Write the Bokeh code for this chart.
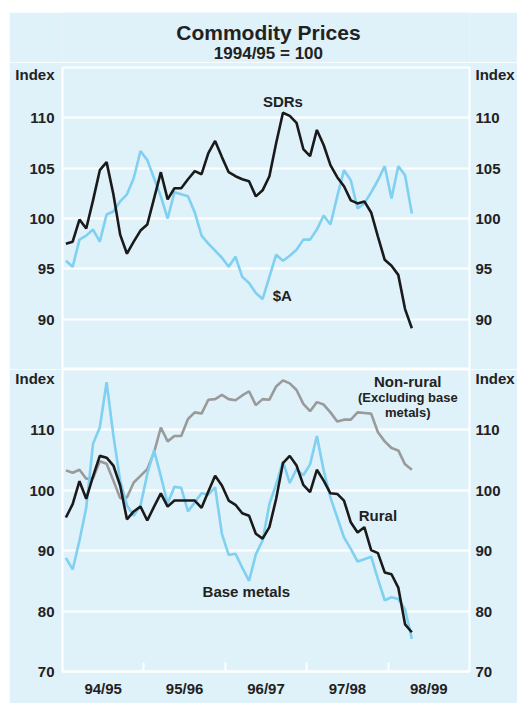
import numpy as np
from bokeh.plotting import figure
from bokeh.models import Range1d, FixedTicker, Label, LinearAxis
from bokeh.layouts import column
from bokeh.embed import file_html
from bokeh.resources import INLINE

# ---------------- data (monthly, Jul 1994 - Oct 1998) ----------------
month_abbr = ["Jul", "Aug", "Sep", "Oct", "Nov", "Dec",
              "Jan", "Feb", "Mar", "Apr", "May", "Jun"]
months = [f"{month_abbr[i % 12]}-{(94 + (i + 6) // 12) % 100:02d}" for i in range(52)]

sdrs = [97.5, 97.7, 99.9, 99.0, 101.8, 104.8, 105.6, 102.4, 98.4, 96.5,
        97.7, 98.8, 99.4, 102.0, 104.6, 101.9, 103.0, 103.0, 103.9, 104.7,
        104.4, 106.5, 107.7, 106.1, 104.6, 104.2, 103.9, 103.7, 102.2, 102.8,
        104.2, 107.5, 110.5, 110.2, 109.5, 106.9, 106.2, 108.8, 107.3, 105.3,
        104.1, 103.2, 101.8, 101.5, 101.7, 100.6, 98.2, 95.9, 95.3, 94.4,
        91.0, 89.1]

aud = [95.8, 95.2, 97.9, 98.3, 98.9, 97.7, 100.4, 100.7, 101.7, 102.4,
       104.0, 106.7, 105.8, 104.0, 102.2, 100.0, 102.6, 102.4, 102.2, 100.6,
       98.3, 97.5, 96.8, 96.1, 95.2, 96.2, 94.2, 93.6, 92.6, 92.0,
       94.2, 96.4, 95.8, 96.3, 96.9, 97.9, 97.9, 98.9, 100.3, 99.4,
       102.2, 104.8, 103.8, 101.0, 101.5, 102.6, 103.8, 105.2, 102.0, 105.2,
       104.3, 100.5]

rural = [95.5, 97.7, 101.5, 98.6, 102.3, 105.7, 105.4, 104.1, 100.8, 95.2,
         96.5, 97.3, 95.0, 97.3, 99.5, 97.3, 98.3, 98.3, 98.3, 98.3,
         97.1, 99.8, 102.4, 100.8, 98.3, 97.6, 96.2, 95.8, 92.8, 92.0,
         93.9, 98.6, 104.5, 105.7, 104.1, 100.9, 99.7, 103.4, 101.6, 99.5,
         99.4, 98.3, 94.7, 93.0, 93.9, 90.1, 89.6, 86.4, 86.1, 83.9,
         77.8, 76.5]

base_metals = [88.8, 86.9, 91.7, 97.1, 107.7, 110.4, 117.9, 109.1, 101.6, 97.5,
               95.8, 97.5, 102.7, 106.6, 102.3, 97.8, 100.6, 100.4, 96.5, 98.0,
               99.5, 99.3, 100.5, 92.8, 89.3, 89.5, 87.2, 85.0, 89.4, 91.7,
               97.7, 101.0, 104.8, 101.2, 103.5, 102.5, 104.3, 109.0, 103.3, 98.8,
               95.5, 92.2, 90.3, 88.2, 88.6, 89.0, 85.3, 81.8, 82.3, 82.0,
               80.3, 75.4]

non_rural = [103.3, 102.9, 103.4, 101.9, 102.0, 104.8, 104.4, 101.6, 98.7, 98.8,
             101.3, 102.4, 103.5, 106.3, 110.4, 108.1, 109.0, 109.0, 111.8, 112.9,
             112.7, 115.0, 115.1, 115.8, 115.1, 114.9, 115.7, 116.4, 114.1, 115.1,
             115.0, 117.2, 118.2, 117.7, 116.6, 114.3, 113.1, 114.6, 114.2, 112.9,
             111.4, 111.7, 111.7, 112.9, 112.8, 112.7, 109.6, 108.1, 107.0, 106.6,
             104.3, 103.4]

years = ["94/95", "95/96", "96/97", "97/98", "98/99"]

# x position: month index, centred in month (0 = start of Jul 1994)
x = [i + 0.5 for i in range(len(months))]

# ---------------- style ----------------
BG = "#dff1f9"
TXT = "#222222"
FONT = "Liberation Sans"
BLACK = "#1a1a1a"
BLUE = "#7fd0f1"
GREY = "#9a9a9a"
LW = 2.6
W = 508
ML, MR = 53, 47

xr = Range1d(0, 60)
year_mid = [6 + 12 * k for k in range(len(years))]
year_bounds = [12 * k for k in range(1, len(years))]


def style_y_axis(ax, ticks, index_pos, standoff):
    ax.ticker = FixedTicker(ticks=ticks + [index_pos])
    ax.major_label_overrides = {index_pos: "Index"}
    ax.axis_line_color = None
    ax.major_tick_line_color = None
    ax.minor_tick_line_color = None
    ax.major_tick_in = 0
    ax.major_tick_out = 0
    ax.minor_tick_in = 0
    ax.minor_tick_out = 0
    ax.major_label_standoff = standoff
    ax.major_label_text_font = FONT
    ax.major_label_text_font_style = "bold"
    ax.major_label_text_font_size = "15px"
    ax.major_label_text_color = TXT


def make_fig(height, y0, y1, grid_ticks, top, bottom, with_x):
    p = figure(width=W, height=height, x_range=xr, y_range=Range1d(y0, y1),
               output_backend="svg", toolbar_location=None,
               x_axis_location="below" if with_x else None,
               min_border_left=ML, min_border_right=MR,
               min_border_top=top, min_border_bottom=bottom)
    p.background_fill_color = BG
    p.border_fill_color = BG
    p.outline_line_color = "white"
    p.outline_line_width = 2
    p.xgrid.visible = False
    p.ygrid.ticker = FixedTicker(ticks=grid_ticks)
    p.ygrid.grid_line_color = "white"
    p.ygrid.grid_line_width = 2
    right = LinearAxis()
    p.add_layout(right, "right")
    return p, right


def add_label(p, xv, yv, text, size="15px"):
    p.add_layout(Label(x=xv, y=yv, text=text, text_align="center",
                       text_baseline="middle", text_font=FONT,
                       text_font_style="bold", text_font_size=size,
                       text_color=TXT))


# ---------------- title strip ----------------
pt = figure(width=W, height=50, x_range=Range1d(0, W), y_range=Range1d(50, 0),
            output_backend="svg", toolbar_location=None,
            x_axis_location=None, y_axis_location=None,
            min_border_left=0, min_border_right=0,
            min_border_top=0, min_border_bottom=0)
pt.background_fill_color = BG
pt.border_fill_color = BG
pt.outline_line_color = None
pt.grid.visible = False
add_label(pt, 257, 19.7, "Commodity Prices", "21px")
add_label(pt, 257, 40.7, "1994/95 = 100", "17px")

# ---------------- top panel ----------------
top_ticks = [90, 95, 100, 105, 110]
p1, r1 = make_fig(307, 85, 115, top_ticks, 5, 0, False)
style_y_axis(p1.yaxis[0], top_ticks, 114.3, 8)
style_y_axis(r1, top_ticks, 114.3, 6)
p1.line(x, aud, line_color=BLUE, line_width=LW)
p1.line(x, sdrs, line_color=BLACK, line_width=LW)
add_label(p1, 32.5, 111.6, "SDRs")
add_label(p1, 32.4, 92.4, "$A")

# ---------------- bottom panel ----------------
bot_grid = [80, 90, 100, 110]
bot_labels = [70, 80, 90, 100, 110]
p2, r2 = make_fig(334, 70, 120, bot_grid, 0, 32, True)
style_y_axis(p2.yaxis[0], bot_labels, 118.8, 8)
style_y_axis(r2, bot_labels, 118.8, 6)
p2.line(x, non_rural, line_color=GREY, line_width=LW)
p2.line(x, base_metals, line_color=BLUE, line_width=LW)
p2.line(x, rural, line_color=BLACK, line_width=LW)
add_label(p2, 50.9, 118.0, "Non-rural")
add_label(p2, 50.9, 115.35, "(Excluding base", "13px")
add_label(p2, 50.9, 112.8, "metals)", "13px")
add_label(p2, 46.5, 95.75, "Rural")
add_label(p2, 27.1, 83.3, "Base metals")

xa = p2.xaxis[0]
xa.ticker = FixedTicker(ticks=year_mid, minor_ticks=year_bounds)
xa.major_label_overrides = {m: lab for m, lab in zip(year_mid, years)}
xa.axis_line_color = "white"
xa.axis_line_width = 2
xa.major_tick_line_color = None
xa.major_tick_in = 0
xa.major_tick_out = 0
xa.minor_tick_line_color = "white"
xa.minor_tick_line_width = 2
xa.minor_tick_in = 9
xa.minor_tick_out = 0
xa.major_label_standoff = 8
xa.major_label_text_font = FONT
xa.major_label_text_font_style = "bold"
xa.major_label_text_font_size = "15px"
xa.major_label_text_color = TXT

layout = column(pt, p1, p2, spacing=0, margin=(12, 0, 0, 9))
open("out.html", "w").write(file_html(layout, INLINE))
